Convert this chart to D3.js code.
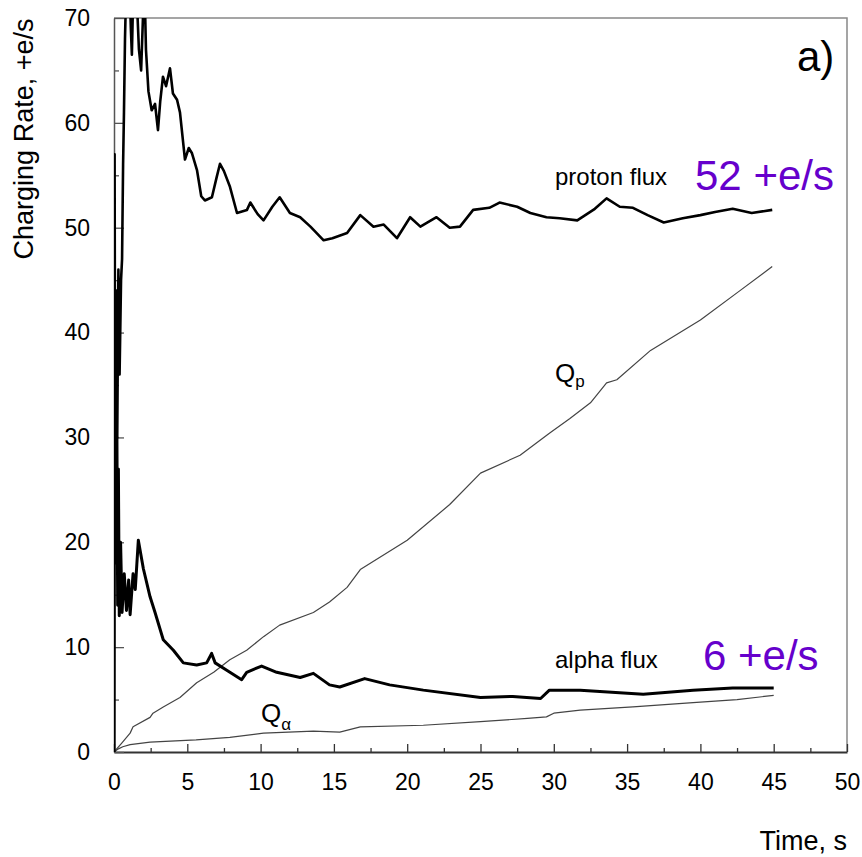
<!DOCTYPE html>
<html>
<head>
<meta charset="utf-8">
<script src="https://cdn.jsdelivr.net/npm/d3@7"></script>
<style>
  html, body { margin: 0; padding: 0; background: #fff; }
  #chart { width: 862px; height: 857px; }
  text { font-family: "Liberation Sans", Arial, Helvetica, sans-serif; fill: #000; }
</style>
</head>
<body>
<div id="chart"></div>
<script>
// Datos (tiempo s, +e/s)
const protonFlux = [
  [0,0],[0.04,57],[0.09,22],[0.15,44],[0.22,30],[0.3,46],[0.38,36],[0.48,45],[0.55,47],
  [0.62,56],[0.68,61],[0.75,68],[0.85,74],[1.0,76],[1.15,69],[1.22,66.5],[1.32,73],[1.55,72],
  [1.7,67],[1.85,65],[2.0,71],[2.1,72],[2.18,67],[2.35,63],[2.57,61.2],[2.8,61.8],[3.0,59.3],
  [3.15,62],[3.34,64.4],[3.55,63.5],[3.82,65.2],[4.02,62.8],[4.3,62.2],[4.5,61],[4.84,56.5],
  [5.1,57.6],[5.32,57.1],[5.66,55.5],[5.95,53],[6.2,52.6],[6.68,52.9],[7.0,54.8],[7.23,56.1],
  [7.5,55.4],[7.91,53.9],[8.39,51.4],[9.07,51.7],[9.3,52.4],[9.8,51.3],[10.2,50.7],[10.8,52],
  [11.3,52.9],[12,51.4],[12.7,51.0],[13.4,50.1],[14.3,48.8],[14.9,49.0],[15.9,49.5],[16.8,51.2],
  [17.7,50.1],[18.4,50.3],[19.3,49.0],[20.2,51.0],[20.9,50.1],[22,51.0],[22.9,50.0],[23.6,50.1],
  [24.5,51.7],[25.6,51.9],[26.3,52.4],[27.5,52.0],[28.4,51.4],[29.5,51.0],[30.4,50.9],[31.6,50.7],
  [32.8,51.8],[33.6,52.8],[34.5,52.0],[35.4,51.9],[36.4,51.2],[37.5,50.5],[38.8,50.9],[40,51.2],
  [41,51.5],[42.2,51.8],[43.5,51.4],[44.9,51.7]
];
const alphaFlux = [
  [0,0],[0.03,40],[0.07,18],[0.11,34],[0.16,24],[0.2,30],[0.25,14],[0.3,27],[0.36,13],
  [0.45,20],[0.55,13.3],[0.7,17],[0.85,13.5],[1.0,16.4],[1.1,13.1],[1.3,17],[1.45,15.5],
  [1.66,20.2],[2.0,17.5],[2.46,14.8],[2.8,13.3],[3.36,10.7],[4.05,9.7],[4.73,8.5],[5.64,8.3],
  [6.32,8.5],[6.66,9.4],[6.9,8.5],[7.69,7.8],[8.71,6.9],[9.05,7.6],[10.07,8.2],[11.1,7.6],
  [12.7,7.1],[13.6,7.5],[14.7,6.4],[15.4,6.2],[17.1,7.0],[18.8,6.4],[21.1,5.9],[25,5.2],
  [27.2,5.3],[29.1,5.1],[29.7,5.9],[31.8,5.9],[36.1,5.5],[39.5,5.9],[42.2,6.1],[45,6.1]
];
const chargeProton = [
  [0,0],[0.5,0.8],[1.1,1.8],[1.3,2.4],[2.46,3.3],[2.66,3.7],[3.36,4.3],[4.5,5.2],[5.64,6.6],
  [6.8,7.6],[7.9,8.8],[9.05,9.7],[10.2,11.0],[11.3,12.1],[13.6,13.3],[14.7,14.3],[15.9,15.7],
  [16.8,17.4],[20,20.2],[22.9,23.6],[25,26.6],[27.7,28.3],[29.7,30.4],[31.1,31.8],[32.5,33.3],
  [33.6,35.2],[34.3,35.5],[36.6,38.3],[40,41.2],[42.7,44],[44.9,46.3]
];
const chargeAlpha = [
  [0,0],[0.3,0.3],[0.6,0.5],[1.1,0.7],[2.46,0.95],[5.6,1.15],[7.9,1.4],[10.2,1.8],[13.6,2.0],
  [15.4,1.9],[16.8,2.4],[21.1,2.55],[25,2.9],[28.2,3.2],[29.5,3.35],[30,3.7],[31.8,4.0],
  [35.4,4.3],[39.5,4.7],[42.5,5.0],[45,5.4]
];
const xTicks = [0,5,10,15,20,25,30,35,40,45,50];
const xMinorTicks = [2.5,7.5,12.5,17.5,22.5,27.5,32.5,37.5,42.5,47.5];
const yTicks = [0,10,20,30,40,50,60,70];
const yMinorTicks = [5,15,25,35,45,55,65];

//////VISUALIZACIÓN
let margin = {top: 18, right: 15, bottom: 105, left: 114},
    width = 862 - margin.left - margin.right,
    height = 857 - margin.top - margin.bottom;

let svg = d3.select('#chart')
    .append('svg')
        .attr('width', 862)
        .attr('height', 857)
    .append('g')
        .attr('transform', 'translate(' + margin.left + ',' + margin.top + ')');

let x = d3.scaleLinear().domain([0, 50]).range([0, width]);
let y = d3.scaleLinear().domain([0, 70]).range([height, 0]);

svg.append('defs').append('clipPath').attr('id', 'clip')
    .append('rect').attr('width', width).attr('height', height);

// Marco superior y derecho
svg.append('path')
    .attr('d', 'M0,0H' + width + 'V' + height)
    .attr('fill', 'none')
    .attr('stroke', '#888')
    .attr('stroke-width', 1.5);

// Ejes
let xAxis = function(g) {
    g.call(d3.axisBottom(x).tickValues(xTicks).tickSizeInner(-8).tickSizeOuter(0).tickPadding(22));
    g.call(function(g){ g.select('.domain').attr('stroke', '#333').attr('stroke-width', 2); });
    g.call(function(g){ g.selectAll('.tick line').attr('stroke', '#333').attr('stroke-width', 1.3); });
    g.selectAll('.tick text').attr('font-size', 23).attr('fill', '#000')
        .attr('font-family', '"Liberation Sans", Arial, sans-serif');
};
svg.append('g').attr('transform', 'translate(0,' + height + ')').call(xAxis);
svg.append('g').attr('transform', 'translate(0,' + height + ')')
    .call(d3.axisBottom(x).tickValues(xMinorTicks).tickSizeInner(-4).tickSizeOuter(0).tickFormat(''))
    .call(function(g){ g.select('.domain').remove(); })
    .call(function(g){ g.selectAll('.tick line').attr('stroke', '#333').attr('stroke-width', 1.3); });

let yAxis = function(g) {
    g.call(d3.axisLeft(y).tickValues(yTicks).tickSizeInner(-10).tickSizeOuter(0).tickPadding(24));
    g.call(function(g){ g.select('.domain').attr('stroke', '#555').attr('stroke-width', 1.5); });
    g.call(function(g){ g.selectAll('.tick line').attr('stroke', '#555').attr('stroke-width', 1.3); });
    g.selectAll('.tick text').attr('font-size', 23).attr('fill', '#000')
        .attr('font-family', '"Liberation Sans", Arial, sans-serif');
};
svg.append('g').call(yAxis);
svg.append('g')
    .call(d3.axisLeft(y).tickValues(yMinorTicks).tickSizeInner(-5).tickSizeOuter(0).tickFormat(''))
    .call(function(g){ g.select('.domain').remove(); })
    .call(function(g){ g.selectAll('.tick line').attr('stroke', '#555').attr('stroke-width', 1.3); });

// Líneas
let line = d3.line()
    .x(function(d) { return x(d[0]); })
    .y(function(d) { return y(d[1]); });

let plot = svg.append('g').attr('clip-path', 'url(#clip)');

function drawLine(data, w, color) {
    plot.append('path')
        .datum(data)
        .attr('fill', 'none')
        .attr('stroke', color)
        .attr('stroke-width', w)
        .attr('stroke-linejoin', 'round')
        .attr('d', line);
}
drawLine(chargeProton, 1.2, '#444');
drawLine(chargeAlpha, 1.2, '#444');
drawLine(alphaFlux, 3, '#000');
drawLine(protonFlux, 2.6, '#000');

// Textos
svg.append('text')
    .attr('transform', 'translate(' + (33 - margin.left) + ',' + (139 - margin.top) + ') rotate(-90)')
    .attr('text-anchor', 'middle')
    .attr('font-size', 27)
    .text('Charging Rate, +e/s');

svg.append('text')
    .attr('x', 847 - margin.left).attr('y', 850 - margin.top)
    .attr('text-anchor', 'end')
    .attr('font-size', 27)
    .text('Time, s');

svg.append('text')
    .attr('x', 797 - margin.left).attr('y', 71 - margin.top)
    .attr('font-size', 42)
    .text('a)');

svg.append('text')
    .attr('x', 555 - margin.left).attr('y', 185 - margin.top)
    .attr('font-size', 24)
    .text('proton flux');
svg.append('text')
    .attr('x', 695 - margin.left).attr('y', 190 - margin.top)
    .attr('font-size', 42)
    .style('fill', '#6600cc')
    .text('52 +e/s');

svg.append('text')
    .attr('x', 555 - margin.left).attr('y', 668 - margin.top)
    .attr('font-size', 24)
    .text('alpha flux');
svg.append('text')
    .attr('x', 703 - margin.left).attr('y', 670 - margin.top)
    .attr('font-size', 42)
    .style('fill', '#6600cc')
    .text('6 +e/s');

let qp = svg.append('text')
    .attr('x', 555 - margin.left).attr('y', 382 - margin.top)
    .attr('font-size', 26);
qp.append('tspan').text('Q');
qp.append('tspan').attr('font-size', 17).attr('dy', 5).text('p');

let qa = svg.append('text')
    .attr('x', 261 - margin.left).attr('y', 722 - margin.top)
    .attr('font-size', 26);
qa.append('tspan').text('Q');
qa.append('tspan').attr('font-size', 17).attr('dy', 8).text('α');
</script>
</body>
</html>
